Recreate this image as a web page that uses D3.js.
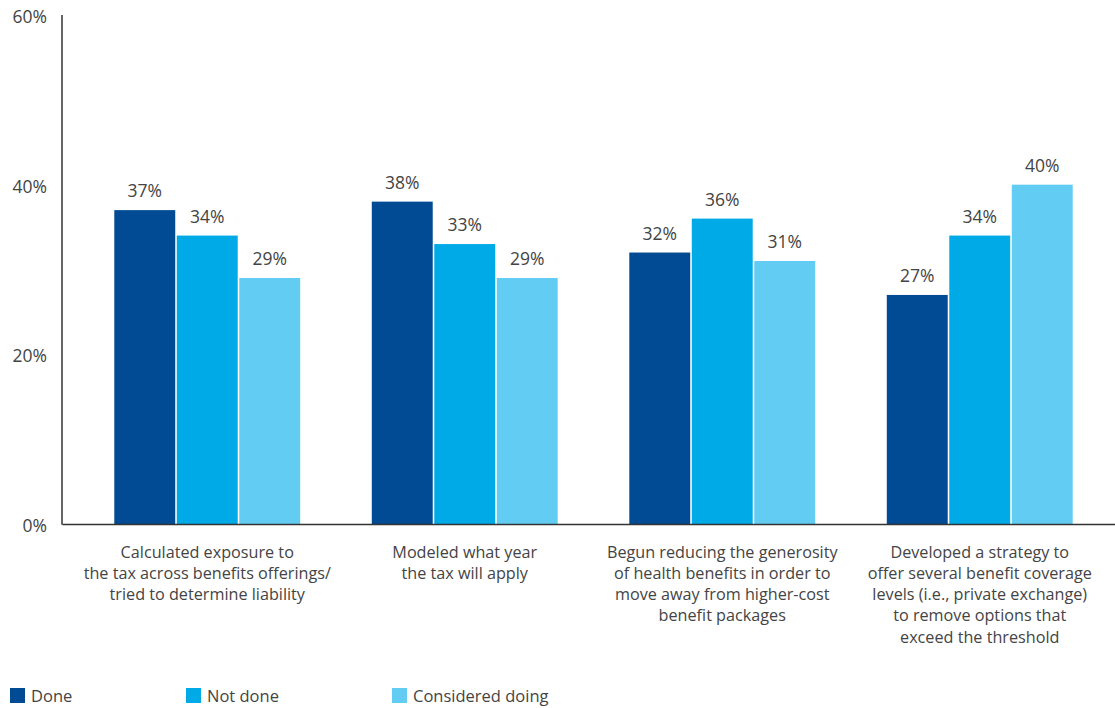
<!DOCTYPE html>
<html>
<head>
<meta charset="utf-8">
<script src="https://cdn.jsdelivr.net/npm/d3@7/dist/d3.min.js"></script>
<style>
  html, body { margin: 0; padding: 0; background: #fff; }
  svg { display: block; }
  text { font-family: "Open Sans", "Noto Sans", sans-serif; fill: #444; }
</style>
</head>
<body>
<svg id="chart" width="1115" height="708"></svg>
<script>
const categories = [
  ["Calculated exposure to", "the tax across benefits offerings/", "tried to determine liability"],
  ["Modeled what year", "the tax will apply"],
  ["Begun reducing the generosity", "of health benefits in order to", "move away from higher-cost", "benefit packages"],
  ["Developed a strategy to", "offer several benefit coverage", "levels (i.e., private exchange)", "to remove options that", "exceed the threshold"]
];
const seriesNames = ["Done", "Not done", "Considered doing"];
const done = [37, 38, 32, 27];
const notDone = [34, 33, 36, 34];
const considered = [29, 29, 31, 40];
const yTicks = [0, 20, 40, 60];
const colors = ["#004B93", "#00AAE6", "#63CCF2"];

const seriesValues = [done, notDone, considered];

const svg = d3.select("#chart");
const mLeft = 62, mRight = 1115, mTop = 15, mBottom = 524;

const y = d3.scaleLinear().domain([0, 60]).range([mBottom, mTop]);
const x0 = d3.scaleBand().domain(d3.range(categories.length)).range([78.5, 1108.5]).paddingInner(0.278).paddingOuter(0.139);
const x1 = d3.scaleBand().domain(d3.range(seriesNames.length)).range([0, x0.bandwidth()]).paddingInner(0.025);

// bars
const groups = svg.append("g").selectAll("g").data(categories).join("g")
  .attr("transform", (d, i) => `translate(${x0(i)},0)`);

groups.each(function(cat, ci) {
  const g = d3.select(this);
  seriesNames.forEach((s, si) => {
    const v = seriesValues[si][ci];
    g.append("rect")
      .attr("x", x1(si)).attr("width", x1.bandwidth())
      .attr("y", y(v)).attr("height", mBottom - y(v))
      .attr("fill", colors[si]);
    g.append("text")
      .attr("x", x1(si) + x1.bandwidth() / 2)
      .attr("y", y(v) - 13)
      .attr("text-anchor", "middle")
      .attr("font-size", 17.5)
      .text(v + "%");
  });
  const t = g.append("text")
    .attr("x", x0.bandwidth() / 2)
    .attr("y", 557)
    .attr("text-anchor", "middle")
    .attr("font-size", 16.2);
  cat.forEach((line, li) => {
    t.append("tspan").attr("x", x0.bandwidth() / 2).attr("y", 557.5 + li * 21.3).text(line);
  });
});

// y axis
const yAxis = d3.axisLeft(y).tickValues(yTicks).tickSize(0).tickPadding(15).tickFormat(d => d + "%");
const ya = svg.append("g").attr("transform", `translate(${mLeft},0)`).call(yAxis);
ya.select(".domain").remove();
ya.selectAll("text").attr("font-size", 17.5).attr("dy", "0.42em")
  .attr("font-family", "Open Sans, Noto Sans, sans-serif").attr("fill", "#444");
svg.append("line").attr("x1", mLeft).attr("x2", mLeft).attr("y1", mTop).attr("y2", mBottom + 0.75)
  .attr("stroke", "#333").attr("stroke-width", 1.5);

// x axis
const xAxis = d3.axisBottom(d3.scaleLinear().range([mLeft, mRight])).tickValues([]).tickSize(0);
const xa = svg.append("g").attr("transform", `translate(0,${mBottom})`).call(xAxis);
xa.select(".domain").attr("stroke", "#333").attr("stroke-width", 1.5);

// legend
const legendX = [10, 186, 392];
const lg = svg.append("g");
seriesNames.forEach((s, i) => {
  lg.append("rect").attr("x", legendX[i]).attr("y", 688).attr("width", 15).attr("height", 15).attr("fill", colors[i]);
  lg.append("text").attr("x", legendX[i] + 21).attr("y", 701.5).attr("font-size", 16.5).text(s);
});
</script>
</body>
</html>
